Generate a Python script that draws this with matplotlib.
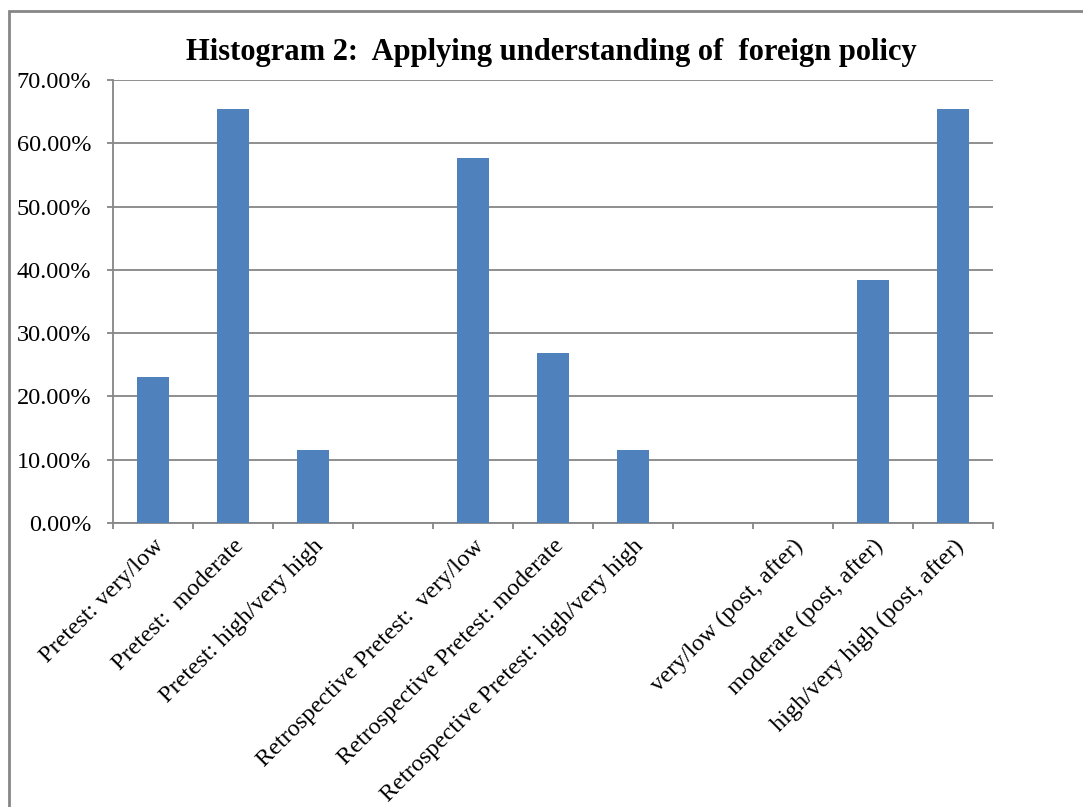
import matplotlib.pyplot as plt
from matplotlib.patches import Rectangle
from matplotlib.ticker import FuncFormatter

categories = ['Pretest: very/low', 'Pretest:  moderate', 'Pretest: high/very high', '',
              'Retrospective Pretest:  very/low', 'Retrospective Pretest: moderate',
              'Retrospective Pretest: high/very high', '',
              'very/low (post, after)', 'moderate (post, after)', 'high/very high (post, after)']
values = [23.08, 65.38, 11.54, 0, 57.69, 26.92, 11.54, 0, 0, 38.46, 65.38]
yticks = [0, 10, 20, 30, 40, 50, 60, 70]

plt.rcParams['font.family'] = ['Liberation Serif', 'DejaVu Serif']

fig = plt.figure(figsize=(10.83, 8.07), dpi=100)
ax = fig.add_axes([0.1043, 0.3519, 0.8126, 0.549])

grid_col = '#868686'
x = list(range(len(categories)))
ax.bar(x, values, width=0.4, color='#4F81BD', zorder=3)

ax.set_xlim(-0.5, len(categories) - 0.5)
ax.set_ylim(0, 70)
ax.set_yticks(yticks)
ax.yaxis.set_major_formatter(FuncFormatter(lambda v, p: '%.2f%%' % v))
ax.grid(axis='y', color=grid_col, linewidth=1.3, zorder=0)

ax.set_xticks([i - 0.5 for i in range(len(categories) + 1)])
ax.set_xticklabels([])
ax.set_xticks(x, minor=True)
ax.set_xticklabels(categories, minor=True, rotation=45, ha='right',
                   rotation_mode='anchor', fontsize=17.5)
ax.tick_params(axis='x', which='minor', length=0, pad=9)
ax.tick_params(axis='x', which='major', length=4.5, width=1.3, color=grid_col)
ax.tick_params(axis='y', length=4.5, width=1.3, color=grid_col, labelsize=17.5, pad=11)

for s in ['top', 'right']:
    ax.spines[s].set_visible(False)
for s in ['left', 'bottom']:
    ax.spines[s].set_color(grid_col)
    ax.spines[s].set_linewidth(1.3)

fig.text(0.509, 0.935, 'Histogram 2:  Applying understanding of  foreign policy',
         ha='center', va='center', fontsize=22, fontweight='bold')

fig.patches.append(Rectangle((9 / 1083, -0.1), 1.2, 1.1 - 11 / 807,
                             transform=fig.transFigure, fill=False,
                             edgecolor=grid_col, linewidth=2))

fig.savefig('out.png', dpi=100)
